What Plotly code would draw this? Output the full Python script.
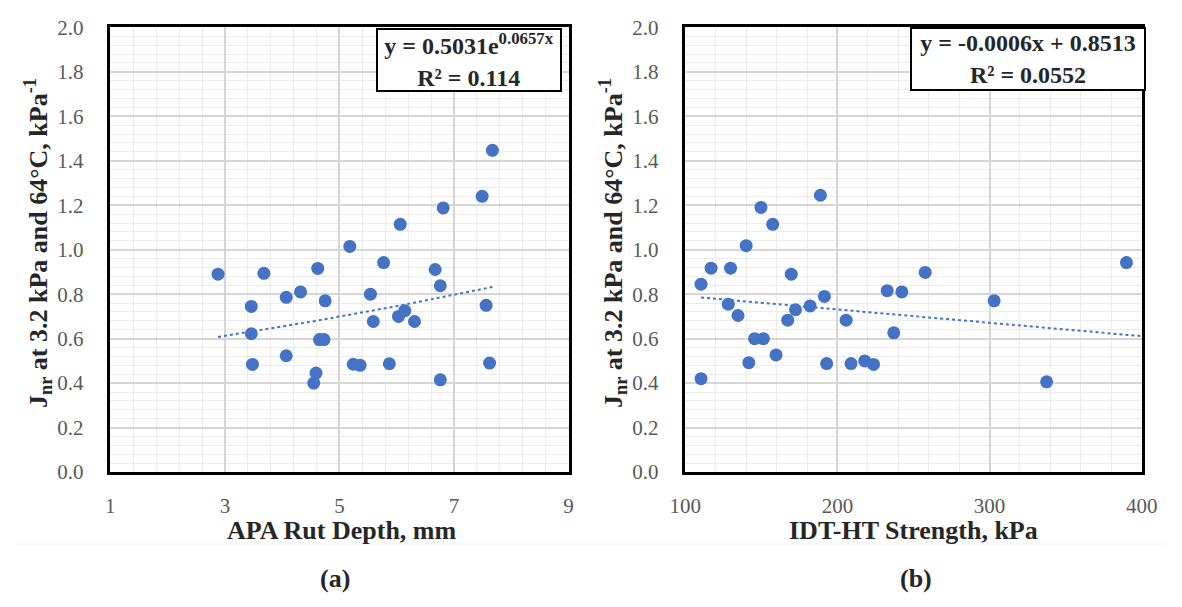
import plotly.graph_objects as go

# ---- data ----
apa_rut = [2.88, 3.46, 3.46, 3.48, 3.68, 4.07, 4.07, 4.32, 4.55, 4.59, 4.62, 4.65, 4.73,
           4.75, 5.18, 5.24, 5.36, 5.54, 5.59, 5.77, 5.87, 6.03, 6.06, 6.14, 6.31, 6.67,
           6.76, 6.76, 6.81, 7.49, 7.56, 7.62, 7.67]
jnr_a = [0.89, 0.745, 0.622, 0.484, 0.894, 0.786, 0.523, 0.81, 0.40, 0.445, 0.916, 0.596, 0.596,
         0.77, 1.015, 0.485, 0.48, 0.80, 0.677, 0.942, 0.487, 0.70, 1.114, 0.726, 0.677, 0.911,
         0.838, 0.415, 1.188, 1.24, 0.75, 0.49, 1.447]

idt_ht = [110.3, 110.3, 116.9, 128.2, 129.7, 134.6, 140.0, 141.7, 145.5, 151.3, 149.7, 157.4,
          159.6, 167.3, 169.6, 172.4, 182.0, 188.8, 191.4, 192.9, 205.7, 208.9, 217.9, 223.7,
          232.7, 237.0, 242.3, 257.7, 303.0, 337.5, 390.0]
jnr_b = [0.845, 0.42, 0.917, 0.755, 0.917, 0.704, 1.018, 0.492, 0.60, 0.60, 1.19, 1.114,
         0.527, 0.683, 0.89, 0.73, 0.747, 1.245, 0.79, 0.488, 0.683, 0.488, 0.50, 0.484,
         0.816, 0.626, 0.81, 0.898, 0.77, 0.406, 0.942]

# trendline coefficients as printed on the chart
exp_a, exp_b = 0.5031, 0.0657
lin_m, lin_c = -0.0006, 0.8513
trend_a_x = [min(apa_rut) + i * (max(apa_rut) - min(apa_rut)) / 40 for i in range(41)]
trend_a_y = [exp_a * 2.718281828459045 ** (exp_b * x) for x in trend_a_x]
trend_b_x = [min(idt_ht), 400]
trend_b_y = [lin_m * x + lin_c for x in trend_b_x]

y_ticks = [0.0, 0.2, 0.4, 0.6, 0.8, 1.0, 1.2, 1.4, 1.6, 1.8, 2.0]

BLUE = "#4472C4"
SERIF = "Liberation Serif"

W, H = 1182, 607
def px(x):
    return x / W
def py(y):
    return (H - y) / H

fig = go.Figure()
fig.add_trace(go.Scatter(x=apa_rut, y=jnr_a, mode="markers",
                         marker=dict(color=BLUE, size=13), xaxis="x", yaxis="y"))
fig.add_trace(go.Scatter(x=trend_a_x, y=trend_a_y, mode="lines",
                         line=dict(color=BLUE, width=2, dash="dot"), xaxis="x", yaxis="y"))
fig.add_trace(go.Scatter(x=idt_ht, y=jnr_b, mode="markers",
                         marker=dict(color=BLUE, size=13), xaxis="x2", yaxis="y2"))
fig.add_trace(go.Scatter(x=trend_b_x, y=trend_b_y, mode="lines",
                         line=dict(color=BLUE, width=2, dash="dot"), xaxis="x2", yaxis="y2"))

tickfont = dict(family=SERIF, size=21, color="#595959")
axis_common = dict(showline=True, linecolor="black", linewidth=2.5, mirror=True,
                   showgrid=True, gridcolor="#d6d6d6", gridwidth=1.5, zeroline=False,
                   ticks="", tickfont=tickfont)

yd = [py(479), py(16)]
fig.update_layout(
    width=W, height=H, margin=dict(l=0, r=0, t=0, b=0),
    paper_bgcolor="white", plot_bgcolor="white", showlegend=False,
    xaxis=dict(domain=[px(97), px(568)], range=[1, 9], tickvals=[1, 3, 5, 7, 9],
               minor=dict(dtick=0.4, tick0=1, showgrid=True, gridcolor="#ececec", gridwidth=1),
               anchor="y", ticklabelstandoff=13, **axis_common),
    yaxis=dict(domain=yd, range=[0, 2], tickvals=y_ticks, tickformat=".1f",
               minor=dict(dtick=0.04, tick0=0, showgrid=True, gridcolor="#ececec", gridwidth=1),
               anchor="x", ticklabelstandoff=20, **axis_common),
    xaxis2=dict(domain=[px(688), px(1157)], range=[100, 400], tickvals=[100, 200, 300, 400],
                minor=dict(dtick=20, tick0=100, showgrid=True, gridcolor="#ececec", gridwidth=1),
                anchor="y2", ticklabelstandoff=13, **axis_common),
    yaxis2=dict(domain=yd, range=[0, 2], tickvals=y_ticks, tickformat=".1f",
                minor=dict(dtick=0.04, tick0=0, showgrid=True, gridcolor="#ececec", gridwidth=1),
                anchor="x2", ticklabelstandoff=20, **axis_common),
)

# faint page separator as seen below the axis titles
fig.add_shape(type="line", xref="paper", yref="paper", x0=0, x1=1, y0=py(554), y1=py(554),
              line=dict(color="#f5f5f5", width=1))

title_font = dict(family=SERIF, size=26, color="#262626")
ytitle = "J<sub>nr</sub> at 3.2 kPa and 64°C, kPa<sup>-1</sup>"
annots = [
    dict(text=ytitle, x=px(22), y=py(240), textangle=-90),
    dict(text=ytitle, x=px(613), y=py(240), textangle=-90),
    dict(text="APA Rut Depth, mm", x=px(335), y=py(540)),
    dict(text="IDT-HT Strength, kPa", x=px(922), y=py(540)),
    dict(text="(a)", x=px(328), y=py(590)),
    dict(text="(b)", x=px(925), y=py(590)),
]
for a in annots:
    fig.add_annotation(xref="paper", yref="paper", showarrow=False,
                       xanchor="center", yanchor="middle",
                       font=title_font, text="<b>" + a.pop("text") + "</b>", **a)

eq_font = dict(family=SERIF, size=24, color="#262626")
fig.add_annotation(xref="paper", yref="paper", showarrow=False,
                   x=px(466), y=py(50), xanchor="center", yanchor="middle",
                   text="<b>y = 0.5031e<sup>0.0657x</sup><br>R² = 0.114</b>", align="center",
                   font=eq_font, bgcolor="white", bordercolor="black", borderwidth=2,
                   width=180, height=58, borderpad=1)
fig.add_annotation(xref="paper", yref="paper", showarrow=False,
                   x=px(1040), y=py(49), xanchor="center", yanchor="middle",
                   text="<b>y = -0.0006x + 0.8513<br>R² = 0.0552</b>", align="center",
                   font=eq_font, bgcolor="white", bordercolor="black", borderwidth=2,
                   width=230, height=58, borderpad=1)

fig.write_html("out.html")
